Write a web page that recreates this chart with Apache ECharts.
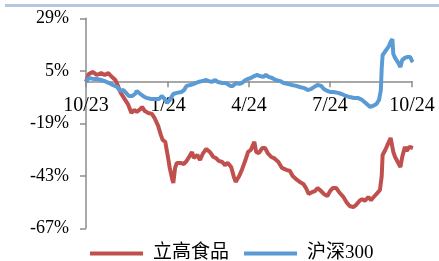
<!DOCTYPE html>
<html>
<head>
<meta charset="utf-8">
<script src="https://cdn.jsdelivr.net/npm/echarts@6/dist/echarts.min.js"></script>
<style>
html, body { margin: 0; padding: 0; background: #fff; }
#chart { width: 439px; height: 261px; }
</style>
</head>
<body>
<div id="chart"></div>
<script>
// days counted from 2023-10-01
var xTickDays = [0, 92, 183, 274, 366];
var xTickLabels = ['10/23', '1/24', '4/24', '7/24', '10/24'];
var yTicks = [-67, -43, -19, 5, 29];

var ligaoDays = [0, 3, 8, 12, 17, 21, 25, 28, 33, 36, 39, 44, 47, 51, 54, 57, 61, 63, 66, 70,
	74, 77, 81, 84, 86, 89, 92, 94, 97, 98, 100, 102, 106, 110, 113, 117, 119, 121, 125, 128,
	131, 135, 137, 139, 143, 146, 149, 153, 156, 159, 163, 166, 168, 172, 175, 179, 182, 185, 189, 191,
	194, 198, 201, 204, 208, 211, 216, 220, 225, 229, 232, 237, 240, 244, 247, 250, 254, 257, 260, 264,
	267, 271, 274, 277, 281, 284, 289, 293, 296, 300, 303, 307, 310, 313, 317, 320, 323, 327, 330, 332,
	333, 336, 339, 342, 344, 345, 347, 350, 353, 355, 358, 360, 363, 365, 367];
var ligaoVals = [0, 3.5, 4.5, 3.1, 4.0, 3.1, 4.0, 2.6, 0.8, -2.0, -5.1, -8.3, -10.2, -14.3, -12.9, -13.8, -12.5, -11.5, -13.4, -14.3,
	-14.7, -16.6, -20.2, -24.3, -26.6, -27.5, -34.4, -39.4, -44.9, -46.3, -39.4, -37.1, -37.1, -37.6, -36.2, -33.5, -32.1, -34.8, -33.5, -35.8,
	-33.0, -30.7, -30.3, -32.1, -34.4, -34.9, -36.2, -36.7, -38.1, -37.1, -39.0, -43.5, -45.8, -43.1, -40.3, -35.8, -32.1, -31.2, -27.5, -32.1,
	-32.6, -30.3, -30.3, -32.6, -34.4, -34.9, -36.7, -39.4, -40.3, -40.8, -43.1, -44.9, -45.8, -46.7, -48.6, -51.3, -50.4, -50.0, -48.6, -50.0,
	-51.3, -52.2, -50.0, -48.6, -48.6, -50.4, -52.7, -55.4, -56.8, -57.3, -56.4, -54.5, -53.6, -54.5, -52.7, -54.1, -52.7, -50.9, -49.5, -43.1,
	-33.5, -31.2, -28.4, -25.7, -25.2, -32.1, -34.4, -36.7, -39.0, -34.4, -29.8, -31.6, -29.8, -30.7, -30.3];

var hs300Days = [0, 3, 8, 12, 17, 21, 26, 30, 35, 38, 42, 45, 48, 52, 55, 57, 61, 64, 68, 73,
	77, 82, 85, 89, 91, 94, 98, 102, 107, 110, 113, 117, 121, 126, 130, 135, 138, 141, 145, 148,
	153, 157, 162, 165, 168, 172, 175, 179, 182, 185, 189, 192, 195, 199, 202, 205, 209, 213, 218, 222,
	227, 231, 236, 240, 245, 249, 253, 256, 260, 264, 267, 271, 274, 278, 283, 287, 292, 296, 301, 305,
	310, 314, 319, 322, 326, 329, 331, 332, 333, 337, 340, 342, 344, 345, 347, 350, 353, 355, 358, 361,
	364, 366, 367];
var hs300Vals = [0, 1.7, 1.3, 1.3, 0.8, 0.3, -0.6, -1.5, -2.4, -4.2, -3.8, -5.1, -6.5, -6.5, -5.6, -4.2, -5.6, -6.5, -7.4, -7.9,
	-7.9, -7.9, -6.5, -8.3, -9.7, -8.3, -5.6, -5.1, -4.7, -3.8, -1.9, -1.5, -1.0, -0.1, 0.3, 0.8, 0.3, -0.1, 0.8, -0.1,
	-0.6, -0.6, -1.9, -1.9, -0.6, -1.0, -0.6, 0.8, 1.3, 1.7, 2.6, 3.1, 2.6, 2.2, 3.1, 2.2, 1.7, 0.8, 0.3, -0.6,
	-1.0, -1.5, -1.9, -2.4, -2.9, -3.8, -3.3, -2.4, -1.5, -1.9, -3.3, -4.2, -4.7, -4.7, -5.1, -5.6, -6.5, -7.0, -7.4, -7.4,
	-8.3, -9.7, -11.5, -11.1, -10.2, -8.3, -3.8, 6.3, 12.2, 14.5, 16.3, 18.2, 19.5, 12.7, 10.9, 9.0, 6.7, 9.9, 10.9, 11.3,
	11.3, 9.5, 9.0];

function pairs(days, vals) {
	var out = [];
	for (var i = 0; i < days.length; i++) {
		out.push([days[i], vals[i]]);
	}
	return out;
}

// one category per calendar day
var dayCats = [];
var start = new Date(2023, 9, 1);
for (var d = 0; d <= 367; d++) {
	var dt = new Date(start.getFullYear(), start.getMonth(), start.getDate() + d);
	dayCats.push(dt.getFullYear() + '-' + (dt.getMonth() + 1) + '-' + dt.getDate());
}

function isTickDay(index) {
	return xTickDays.indexOf(index) >= 0;
}

var dom = document.getElementById('chart');
var myChart = echarts.init(dom);
var serifFont = '"Liberation Serif", "Noto Sans CJK SC", serif';
var gridBottom = 32.7;

var option = {
	animation: false,
	graphic: [{
		type: 'rect',
		shape: { x: 5, y: 4, width: 434, height: 3 },
		style: { fill: '#b7c6dd' },
		silent: true
	}],
	legend: {
		left: 90,
		top: 244,
		padding: 0,
		itemWidth: 53,
		itemHeight: 4,
		itemGap: 15,
		icon: 'rect',
		textStyle: {
			fontFamily: serifFont,
			fontSize: 19,
			color: '#000',
			padding: [0, 0, 0, 5]
		},
		data: ['立高食品', '沪深300']
	},
	grid: {
		left: 86,
		right: 27,
		top: 18.3,
		bottom: gridBottom
	},
	xAxis: {
		type: 'category',
		data: dayCats,
		boundaryGap: false,
		max: 366,
		axisLine: {
			onZero: false,
			lineStyle: { color: '#8c8c8c', width: 1.5 }
		},
		axisTick: {
			show: true,
			length: 6,
			interval: isTickDay,
			lineStyle: { color: '#8c8c8c', width: 1.5 }
		},
		axisLabel: {
			margin: 14,
			interval: isTickDay,
			fontFamily: serifFont,
			fontSize: 20,
			color: '#000',
			formatter: function (v, i) {
				return xTickLabels[xTickDays.indexOf(i)];
			}
		},
		splitLine: { show: false }
	},
	yAxis: {
		type: 'value',
		min: yTicks[0],
		max: yTicks[yTicks.length - 1],
		interval: 24,
		axisLine: {
			show: true,
			lineStyle: { color: '#8c8c8c', width: 1.5 }
		},
		axisTick: {
			show: true,
			length: 6,
			lineStyle: { color: '#8c8c8c', width: 1.5 }
		},
		axisLabel: {
			margin: 17,
			fontFamily: serifFont,
			fontSize: 18,
			color: '#000',
			formatter: '{value}%'
		},
		splitLine: { show: false }
	},
	series: [
		{
			name: '立高食品',
			type: 'line',
			showSymbol: false,
			clip: false,
			lineStyle: { color: '#c0504d', width: 4 },
			itemStyle: { color: '#c0504d' },
			data: pairs(ligaoDays, ligaoVals)
		},
		{
			name: '沪深300',
			type: 'line',
			showSymbol: false,
			clip: false,
			lineStyle: { color: '#5b9bd5', width: 4 },
			itemStyle: { color: '#5b9bd5' },
			data: pairs(hs300Days, hs300Vals)
		}
	]
};

myChart.setOption(option, true);

// move the category axis up so it crosses the y axis at 0%
var zeroY = myChart.convertToPixel({ yAxisIndex: 0 }, 0);
var bottomY = myChart.getHeight() - gridBottom;
myChart.setOption({ xAxis: { offset: zeroY - bottomY } });
</script>
</body>
</html>
